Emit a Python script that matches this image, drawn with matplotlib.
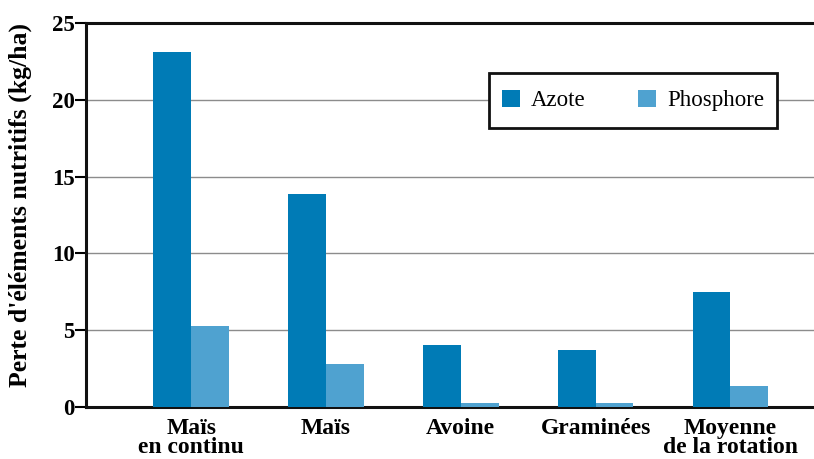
import matplotlib
matplotlib.use("Agg")
import matplotlib.pyplot as plt
from matplotlib.patches import Rectangle
import numpy as np

categories = ["Maïs\nen continu", "Maïs", "Avoine", "Graminées", "Moyenne\nde la rotation"]
azote = [23.1, 13.85, 4.05, 3.7, 7.5]
phosphore = [5.3, 2.8, 0.26, 0.26, 1.37]
series_names = ["Azote", "Phosphore"]
yticks = [0, 5, 10, 15, 20, 25]

c_az = "#007bb6"
c_ph = "#4fa2d0"
font = "Liberation Serif"

fig = plt.figure(figsize=(8.14, 4.59), dpi=100)
ax = fig.add_axes([0.1057, 0.1133, 0.8943, 0.8367])

x = np.arange(len(categories))
w = 0.28
ax.bar(x - w/2, azote, w, color=c_az, label=series_names[0], zorder=3)
ax.bar(x + w/2, phosphore, w, color=c_ph, label=series_names[1], zorder=3)

ax.set_xlim(-0.78, 4.62)
ax.set_ylim(0, 25)
ax.set_yticks(yticks)
ax.set_yticklabels([str(v) for v in yticks], fontfamily=font, fontweight="bold", fontsize=16.5)
ax.set_xticks(x)
ax.set_xticklabels(categories, fontfamily=font, fontweight="bold", fontsize=17, linespacing=0.86)
ax.tick_params(axis="x", length=0, pad=8)
ax.tick_params(axis="y", length=8, width=1.5, color="black", pad=0, direction="out")

for v in yticks[1:-1]:
    ax.axhline(v, color="#8c8c8c", lw=1, zorder=1)

for s in ["left", "bottom", "top"]:
    ax.spines[s].set_linewidth(2.2)
    ax.spines[s].set_color("#111111")
ax.spines["right"].set_visible(False)

ax.set_ylabel("Perte d'éléments nutritifs (kg/ha)", fontfamily=font, fontweight="bold", fontsize=18.5)
ax.yaxis.set_label_coords(-0.074, 0.527)

box = (0.554, 0.727, 0.395, 0.143)
ax.add_patch(Rectangle(box[:2], box[2], box[3], transform=ax.transAxes,
                       facecolor="white", edgecolor="#111111", lw=2, zorder=4, clip_on=False))
leg = ax.legend(loc="center", bbox_to_anchor=box, mode="expand",
                ncol=2, frameon=False, prop={"family": font, "size": 16.5},
                handlelength=0.78, handleheight=0.78, borderpad=0.55, columnspacing=2.6, handletextpad=0.5,
                borderaxespad=0)
leg.set_zorder(5)

fig.savefig("out.png", dpi=100)
